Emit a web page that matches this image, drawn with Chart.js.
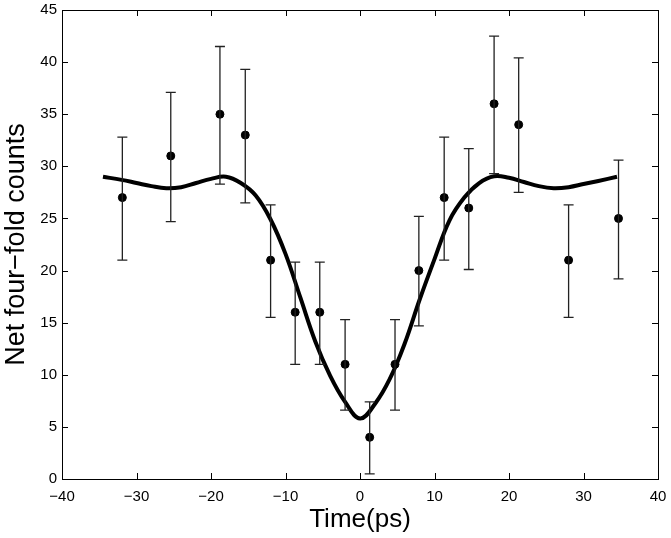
<!DOCTYPE html>
<html>
<head>
<meta charset="utf-8">
<script src="https://cdn.jsdelivr.net/npm/chart.js@4/dist/chart.umd.min.js"></script>
<style>
  html, body { margin: 0; padding: 0; background: #fff; }
  #wrap { width: 671px; height: 538px; }
</style>
</head>
<body>
<div id="wrap"><canvas id="chart"></canvas></div>
<script>
'use strict';

// Measured points (time in ps, net four-fold counts) with error bar ends.
const timePs = [-31.9, -25.4, -18.8, -15.4, -12.0, -8.7, -5.4, -2.0, 1.3, 4.7, 7.9, 11.3, 14.6, 18.0, 21.3, 28.0, 34.7];
const counts = [27, 31, 35, 33, 21, 16, 16, 11, 4, 11, 20, 27, 26, 36, 34, 21, 25];
const errLow = [21.0, 24.7, 28.3, 26.5, 15.5, 11.0, 11.0, 6.6, 0.5, 6.6, 14.7, 21.0, 20.1, 29.3, 27.5, 15.5, 19.2];
const errHigh = [32.8, 37.1, 41.5, 39.3, 26.3, 20.8, 20.8, 15.3, 7.4, 15.3, 25.2, 32.8, 31.7, 42.5, 40.4, 26.3, 30.6];

// Fitted curve, every 2 ps.
const fitX = [-34.5, -32, -30, -28, -26, -24, -22, -20, -18, -16, -14, -12, -10, -8, -6, -4, -2, 0,
              2, 4, 6, 8, 10, 12, 14, 16, 18, 20, 22, 24, 26, 28, 30, 32, 34.5];
const fitY = [29.0, 28.7, 28.4, 28.1, 27.9, 28.0, 28.4, 28.8, 29.0, 28.4, 27.2, 24.9, 21.6, 17.4, 13.2, 9.9, 7.4, 5.8,
              7.2, 9.6, 13.0, 17.2, 21.1, 24.8, 27.0, 28.4, 29.05, 28.9, 28.5, 28.1, 27.9, 28.0, 28.3, 28.6, 29.0];

const xTicks = [-40, -30, -20, -10, 0, 10, 20, 30, 40];
const yTicks = [0, 5, 10, 15, 20, 25, 30, 35, 40, 45];

const FONT = '"Liberation Sans", Arial, Helvetica, sans-serif';

// Error bars plus a MATLAB style box with inward ticks.
const matlabPlugin = {
    id: 'matlab',
    afterDatasetsDraw(chart) {
        const ctx = chart.ctx;
        const xs = chart.scales.x, ys = chart.scales.y;
        ctx.save();
        ctx.strokeStyle = '#222';
        ctx.lineWidth = 1.3;
        for (let i = 0; i < timePs.length; i++) {
            const px = xs.getPixelForValue(timePs[i]);
            const lo = ys.getPixelForValue(errLow[i]);
            const hi = ys.getPixelForValue(errHigh[i]);
            ctx.beginPath();
            ctx.moveTo(px, lo); ctx.lineTo(px, hi);
            ctx.moveTo(px - 5, lo); ctx.lineTo(px + 5, lo);
            ctx.moveTo(px - 5, hi); ctx.lineTo(px + 5, hi);
            ctx.stroke();
        }
        const a = chart.chartArea;
        ctx.strokeStyle = '#000';
        ctx.lineWidth = 1;
        ctx.strokeRect(a.left + 0.5, a.top + 0.5, a.right - a.left, a.bottom - a.top);
        ctx.beginPath();
        for (const v of xTicks) {
            const px = Math.round(xs.getPixelForValue(v)) + 0.5;
            ctx.moveTo(px, a.bottom); ctx.lineTo(px, a.bottom - 6);
            ctx.moveTo(px, a.top); ctx.lineTo(px, a.top + 6);
        }
        for (const v of yTicks) {
            const py = Math.round(ys.getPixelForValue(v)) + 0.5;
            ctx.moveTo(a.left, py); ctx.lineTo(a.left + 6, py);
            ctx.moveTo(a.right, py); ctx.lineTo(a.right - 6, py);
        }
        ctx.stroke();
        ctx.restore();
    }
};

const ctx = document.getElementById('chart').getContext('2d');
new Chart(ctx, {
    data: {
        datasets: [
            {
                type: 'line',
                label: 'fit',
                data: fitX.map((x, i) => ({x: x, y: fitY[i]})),
                borderColor: '#000',
                borderWidth: 4,
                pointRadius: 0,
                tension: 0.4,
                fill: false,
            },
            {
                type: 'scatter',
                label: 'data',
                data: timePs.map((x, i) => ({x: x, y: counts[i]})),
                backgroundColor: '#000',
                borderColor: '#000',
                pointRadius: 4,
            },
        ],
    },
    options: {
        responsive: true,
        maintainAspectRatio: false,
        animation: false,
        layout: { padding: 0 },
        plugins: { legend: { display: false }, tooltip: { enabled: false } },
        scales: {
            x: {
                type: 'linear',
                min: -40,
                max: 40,
                grid: { display: false, drawTicks: false },
                border: { display: false },
                afterBuildTicks: (s) => { s.ticks = xTicks.map(v => ({value: v})); },
                afterFit: (s) => { s.height = 59; s.paddingRight = 13; s.paddingLeft = 0; },
                ticks: {
                    color: '#000',
                    padding: 9,
                    maxRotation: 0,
                    font: { family: FONT, size: 15 },
                    callback: (v) => String(v).replace('-', '\u2212'),
                },
                title: {
                    display: true,
                    text: 'Time(ps)',
                    color: '#000',
                    font: { family: FONT, size: 26 },
                    padding: { top: 0, bottom: 3 },
                },
            },
            y: {
                type: 'linear',
                min: 0,
                max: 45,
                grid: { display: false, drawTicks: false },
                border: { display: false },
                afterBuildTicks: (s) => { s.ticks = yTicks.map(v => ({value: v})); },
                afterFit: (s) => { s.width = 62; s.paddingTop = 10; s.paddingBottom = 0; },
                ticks: {
                    color: '#000',
                    padding: 5,
                    font: { family: FONT, size: 15 },
                },
                title: {
                    display: true,
                    text: 'Net four\u2212fold counts',
                    color: '#000',
                    font: { family: FONT, size: 27 },
                    padding: { top: 0, bottom: 0 },
                },
            },
        },
    },
    plugins: [matlabPlugin],
});
</script>
</body>
</html>
